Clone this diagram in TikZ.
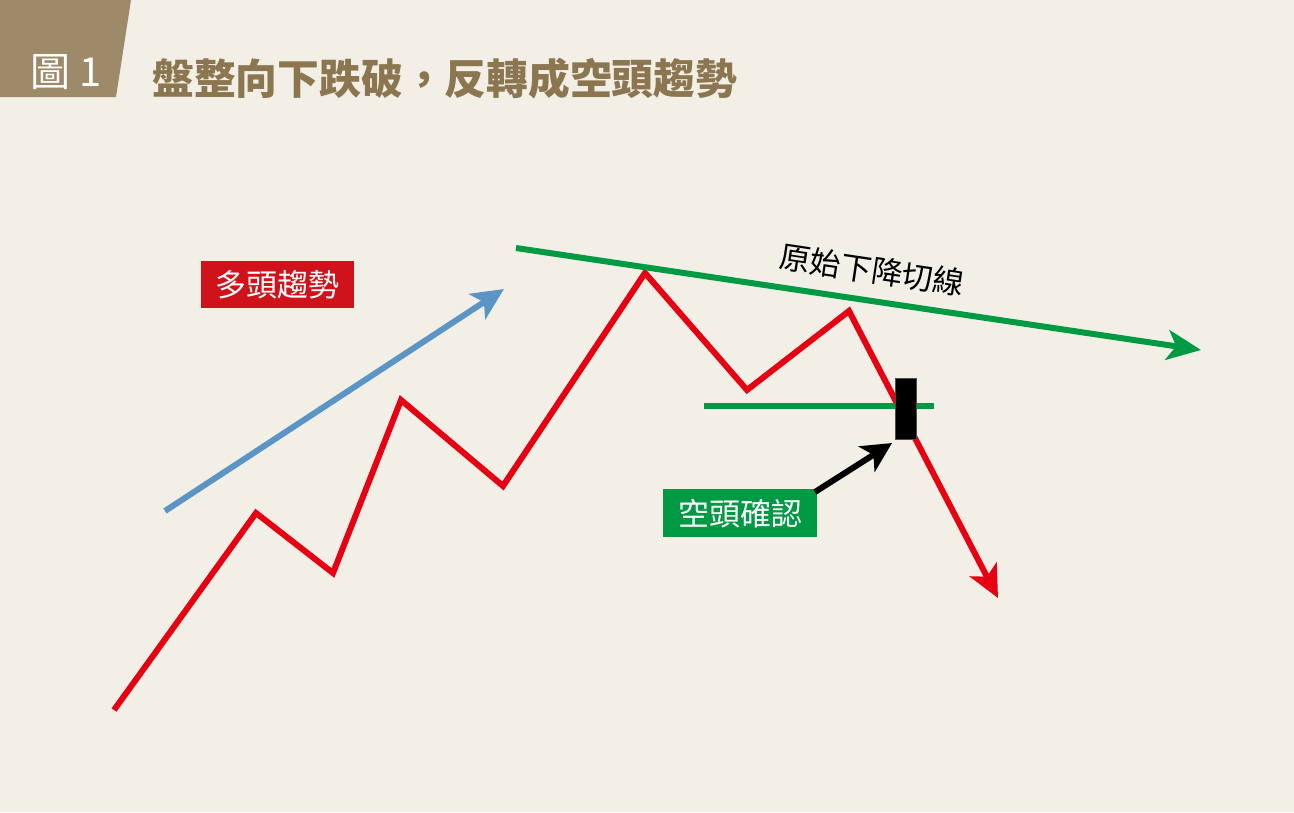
\documentclass[tikz,border=0pt]{standalone}
\usepackage{fontspec}
\newfontfamily\cjk{Noto Sans CJK TC}
\usetikzlibrary{arrows.meta}
\definecolor{bg}{HTML}{F2EFE6}
\definecolor{tan}{HTML}{9C8A69}
\definecolor{titlec}{HTML}{8B7650}
\definecolor{redl}{HTML}{E60012}
\definecolor{redbox}{HTML}{D0121B}
\definecolor{bluel}{HTML}{5B95C5}
\definecolor{greenl}{HTML}{009A44}
\tikzset{
  trend/.style={line width=6pt, miter limit=10},
  lbl/.style={inner sep=0pt, text=white, font=\cjk\fontsize{31}{31}\selectfont, minimum width=153pt, minimum height=47pt, anchor=north west},
}
\begin{document}
\begin{tikzpicture}[x=1pt,y=-1pt]
\useasboundingbox (0,0) rectangle (1294,812);
\fill[bg] (0,0) rectangle (1294,812);
% header
\fill[tan] (0,0) -- (131,0) -- (116,97) -- (0,97) -- cycle;
\node[text=white, font=\cjk\fontsize{40}{40}\selectfont, inner sep=0pt] (fig) at (66,72) {圖 1};
\node[text=titlec, font=\cjk\bfseries\fontsize{41.8}{42}\selectfont, inner sep=0pt, anchor=west] (title) at (152,79) {盤整向下跌破，反轉成空頭趨勢};
% coordinates
\coordinate (r0) at (114,710);
\coordinate (r1) at (256,513);
\coordinate (r2) at (333,573);
\coordinate (r3) at (401,400);
\coordinate (r4) at (503,486);
\coordinate (r5) at (645,273);
\coordinate (r6) at (747,390);
\coordinate (r7) at (849,311);
\coordinate (r8) at (998,598);
\coordinate (b0) at (165,511);
\coordinate (b1) at (504,289);
\coordinate (g0) at (516,248);
\coordinate (g1) at (1201,350);
\coordinate (h0) at (704,406);
\coordinate (h1) at (934,406);
\coordinate (ktip) at (892,443);
\coordinate (ktail) at (815,492);
% blue arrow
\draw[bluel, trend, -{Stealth[length=32pt,width=30pt,inset=8pt]}] (b0) -- (b1);
% red path
\draw[redl, trend, -{Stealth[length=32pt,width=30pt,inset=8pt]}] (r0) -- (r1) -- (r2) -- (r3) -- (r4) -- (r5) -- (r6) -- (r7) -- (r8);
% green tangent
\draw[greenl, trend, -{Stealth[length=34pt,width=30pt,inset=9pt]}] (g0) -- (g1);
% green horizontal
\draw[greenl, trend] (h0) -- (h1);
% candle
\node[fill=black, draw=black!70, line width=0.8pt, minimum width=21pt, minimum height=61pt, inner sep=0pt] (candle) at (905.5,409) {};
% labels
\node[lbl, fill=redbox] (bull) at (201,261) {多頭趨勢};
\node[lbl, fill=greenl, minimum width=154pt, minimum height=48pt] (bear) at (663,489) {空頭確認};
\draw[black, line width=6pt, -{Stealth[length=30pt,width=30pt,inset=8pt]}] (ktail) -- (ktip);
\node[rotate=-8.5, font=\cjk\fontsize{31}{31}\selectfont, inner sep=0pt] (tl) at (872,270) {原始下降切線};
\end{tikzpicture}
\end{document}
